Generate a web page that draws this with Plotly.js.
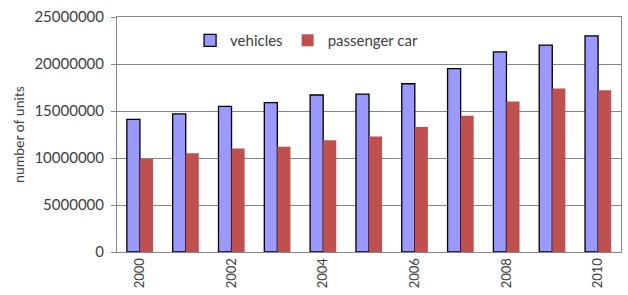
<!DOCTYPE html>
<html>
<head>
<meta charset="utf-8">
<script src="https://cdn.plot.ly/plotly-3.0.1.min.js"></script>
<style>html,body{margin:0;padding:0;background:#fff;}#chart{width:628px;height:295px;}</style>
</head>
<body>
<div id="chart"></div>
<script>
const years = ["2000","2001","2002","2003","2004","2005","2006","2007","2008","2009","2010"];
const vehicles = [14100000,14700000,15500000,15900000,16700000,16800000,17900000,19500000,21300000,22000000,23000000];
const passengerCar = [9900000,10500000,11000000,11200000,11900000,12300000,13300000,14500000,16000000,17400000,17200000];
const xTickLabels = ["2000","2002","2004","2006","2008","2010"];
const yTicks = [0,5000000,10000000,15000000,20000000,25000000];

const textColor = "#404040";
const data = [
  {type:"bar", name:"vehicles", x:years, y:vehicles,
   marker:{color:"#9999ff", line:{color:"#000000", width:1.3}}},
  {type:"bar", name:"passenger car", x:years, y:passengerCar,
   marker:{color:"#c0504d", line:{width:0}}}
];
const layout = {
  width:628, height:295,
  margin:{l:117, r:7, t:17, b:43},
  paper_bgcolor:"#fff", plot_bgcolor:"#fff",
  font:{family:"Lato, 'Liberation Sans', sans-serif", size:14, color:textColor},
  barmode:"group", bargap:0.43, bargroupgap:0,
  showlegend:true,
  legend:{orientation:"h", x:0.145, y:0.97, xanchor:"left", yanchor:"top",
          bgcolor:"rgba(0,0,0,0)", font:{size:15, color:textColor},
          itemwidth:30, tracegroupgap:0},
  xaxis:{type:"category", tickmode:"array", tickvals:xTickLabels, ticktext:xTickLabels,
         tickangle:-90, tickfont:{size:13, color:textColor},
         showgrid:false, showline:true, linecolor:"#868686", linewidth:1, mirror:true,
         ticks:"", zeroline:false, fixedrange:true},
  yaxis:{range:[0,25000000], tickmode:"array", tickvals:yTicks,
         ticktext:yTicks.map(v=>String(v)),
         tickfont:{size:15, color:textColor},
         showgrid:true, gridcolor:"#868686", gridwidth:1,
         showline:true, linecolor:"#868686", linewidth:1, mirror:true,
         ticks:"outside", ticklen:5, tickcolor:"#868686", ticklabelstandoff:4,
         zeroline:false,
         title:{text:"number of units", font:{size:14, color:textColor}, standoff:6}}
};
Plotly.newPlot("chart", data, layout, {displayModeBar:false, staticPlot:true});
</script>
</body>
</html>
